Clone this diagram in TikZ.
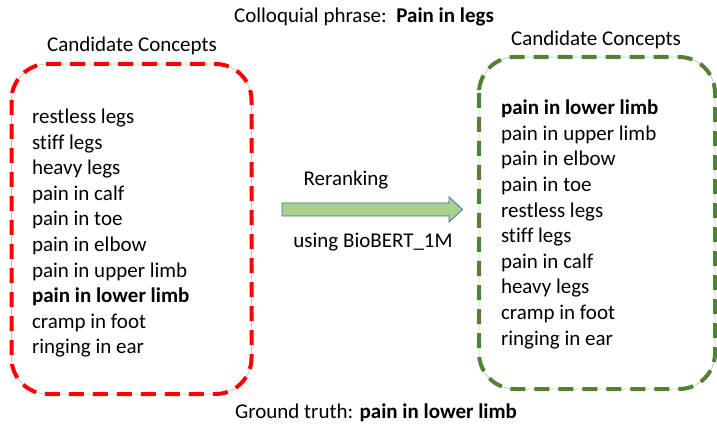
\documentclass[tikz,border=0pt]{standalone}
\usepackage{fontspec}
\setmainfont[Ligatures=NoCommon]{Carlito}
\definecolor{redbox}{RGB}{255,0,0}
\definecolor{greenbox}{RGB}{84,130,53}
\definecolor{arrowfill}{RGB}{169,209,142}
\definecolor{arrowdraw}{RGB}{65,113,156}
\begin{document}
\begin{tikzpicture}[x=1pt,y=-1pt,
  every node/.style={inner sep=0pt,outer sep=0pt,font=\fontsize{21}{25.6}\selectfont},
  listtext/.style={align=left,anchor=north west,font=\fontsize{21}{25.6}\selectfont},
  lbl/.style={anchor=center},
  boxbase/.style={draw=black!22,line width=0.8pt,rounded corners=36pt},
  boxdash/.style={line width=4pt,dash pattern=on 15pt off 9pt,rounded corners=36pt},
  arrowstyle/.style={draw=arrowdraw,fill=arrowfill,line width=0.8pt,line join=miter}]
\useasboundingbox (0,0) rectangle (717,430);
% top title
\node[lbl] (title) at (364,17) {Colloquial phrase:\ \ \textbf{Pain in legs}};
% left box
\node[lbl] (lhead) at (132,46) {Candidate Concepts};
\draw[boxbase] (11.5,64) rectangle (251.5,394);
\draw[boxdash,draw=redbox] (11.5,64) rectangle (251.5,394);
\node[listtext] (llist) at (32,109) {restless legs\\stiff legs\\heavy legs\\pain in calf\\pain in toe\\pain in elbow\\pain in upper limb\\\textbf{pain in lower limb}\\cramp in foot\\ringing in ear};
% right box
\node[lbl] (rhead) at (596,40) {Candidate Concepts};
\draw[boxbase] (479,57) rectangle (715,389);
\draw[boxdash,draw=greenbox] (479,57) rectangle (715,389);
\node[listtext] (rlist) at (501,100) {\textbf{pain in lower limb}\\pain in upper limb\\pain in elbow\\pain in toe\\restless legs\\stiff legs\\pain in calf\\heavy legs\\cramp in foot\\ringing in ear};
% arrow
\coordinate (atail) at (282,209.5);
\coordinate (atip) at (462.5,209.5);
\path[arrowstyle] (282,203) -- (449,203) -- (449,197) -- (atip) -- (449,222) -- (449,216) -- (282,216) -- cycle;
\node[lbl] (rer) at (346,180) {Reranking};
\node[lbl] (using) at (373,242) {using BioBERT\_1M};
% bottom
\node[lbl] (gt) at (376,413) {Ground truth: \textbf{pain in lower limb}};
\end{tikzpicture}
\end{document}
